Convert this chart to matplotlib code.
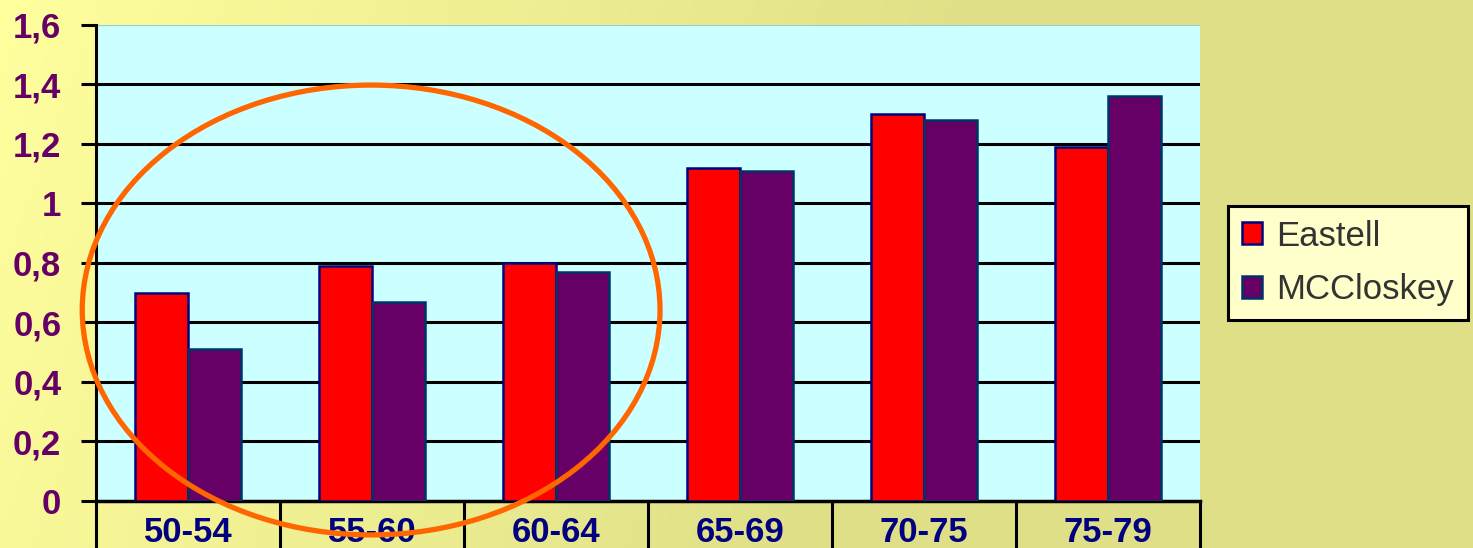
import matplotlib
matplotlib.use("Agg")
import matplotlib.pyplot as plt
from matplotlib.patches import Ellipse
import numpy as np

categories = ['50-54', '55-60', '60-64', '65-69', '70-75', '75-79']
eastell = [0.70, 0.79, 0.80, 1.12, 1.30, 1.19]
mccloskey = [0.51, 0.67, 0.77, 1.11, 1.28, 1.36]
yticks = [0, 0.2, 0.4, 0.6, 0.8, 1.0, 1.2, 1.4, 1.6]
yticklabels = ['0', '0,2', '0,4', '0,6', '0,8', '1', '1,2', '1,4', '1,6']

plt.rcParams['font.family'] = ['Liberation Sans', 'DejaVu Sans']

fig = plt.figure(figsize=(14.73, 5.48), dpi=100)

# background gradient, pale yellow top-left to khaki
bg = fig.add_axes([0, 0, 1, 1], zorder=-10)
gx, gy = np.meshgrid(np.linspace(0, 1, 300), np.linspace(0, 1, 120))
t = np.clip(gx * 1.5 + gy * 0.2, 0, 1)
c0 = np.array([1.0, 1.0, 0.62])
c1 = np.array([0.878, 0.878, 0.533])
img = c0[None, None, :] * (1 - t[..., None]) + c1[None, None, :] * t[..., None]
bg.imshow(img, aspect='auto', extent=[0, 1, 0, 1], origin='upper')
bg.axis('off')

ax = fig.add_axes([0.0652, 0.0858, 0.7495, 0.8686])
ax.set_facecolor('#CCFFFF')

x = np.arange(len(categories))
w = 0.29
ax.bar(x - w / 2, eastell, w, color='#FF0000', edgecolor='#000080',
       linewidth=1.8, label='Eastell', zorder=3)
ax.bar(x + w / 2, mccloskey, w, color='#660066', edgecolor='#003366',
       linewidth=1.8, label='MCCloskey', zorder=3)

ax.set_xlim(-0.5, len(categories) - 0.5)
ax.set_ylim(0, 1.6)
ax.set_yticks(yticks)
ax.set_yticklabels(yticklabels, fontsize=25, fontweight='bold', color='#660066')
for yv in yticks[1:-1]:
    ax.axhline(yv, color='black', linewidth=2.2, zorder=1)
ax.axhline(1.6, color='#99CCCC', linewidth=1.5, zorder=1)
ax.tick_params(axis='y', direction='out', length=11, width=2.2, pad=14)
ax.set_xticks([])
for s in ['top', 'right']:
    ax.spines[s].set_visible(False)
ax.spines['left'].set_linewidth(2.2)
ax.spines['bottom'].set_linewidth(2.5)

# category table under the axis
for b in np.arange(-0.5, len(categories), 1.0):
    ax.plot([b, b], [0, -0.2], color='black', linewidth=2.2, clip_on=False, zorder=4)
for i, c in enumerate(categories):
    ax.text(i, -0.107, c, ha='center', va='center', fontsize=25,
            fontweight='bold', color='#000080', clip_on=False)

# highlight ellipse
ell = Ellipse((0.995, 0.642), 3.14, 1.512, fill=False, edgecolor='#FF6600',
              linewidth=3.8, clip_on=False, zorder=6)
ax.add_patch(ell)

leg = ax.legend(loc='center left', bbox_to_anchor=(1.025, 0.5), fontsize=25,
                frameon=True, fancybox=False, edgecolor='black',
                facecolor='#FFFFCC', framealpha=1, handlelength=0.6,
                handleheight=0.6, handletextpad=0.4, labelspacing=0.6,
                borderpad=0.4, borderaxespad=0)
leg.get_frame().set_linewidth(2.2)
for txt in leg.get_texts():
    txt.set_color('#333333')

fig.savefig('out.png', dpi=100)
